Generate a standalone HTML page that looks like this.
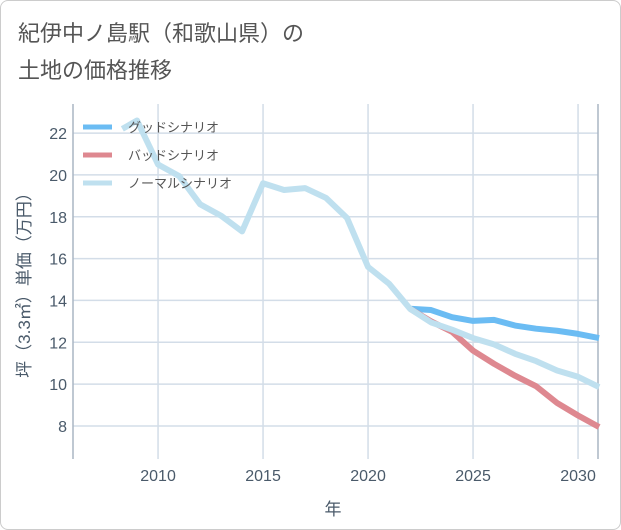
<!DOCTYPE html>
<html><head><meta charset="utf-8"><style>
body{margin:0;background:#fff;}
#wrap{position:relative;width:619px;height:528px;border:1px solid #ccc;border-radius:8px;background:#fff;overflow:hidden;font-family:"Liberation Sans","Noto Sans CJK JP",sans-serif;}
#title{position:absolute;left:17px;top:14px;font-size:22px;line-height:37px;color:#555;}
svg{position:absolute;left:0;top:0;}
</style></head><body>
<div id="wrap">
<div id="title">紀伊中ノ島駅（和歌山県）の<br>土地の価格推移</div>
<svg id="chart" width="621" height="530"></svg>
</div>
<script>
const normalYears=[2008.3,2009,2010,2011,2012,2013,2014,2015,2016,2017,2018,2019,2020,2021,2022,2023,2024,2025,2026,2027,2028,2029,2030,2031];
const normalValues=[22.2,22.6,20.5,19.95,18.6,18.05,17.3,19.6,19.28,19.37,18.9,17.94,15.6,14.8,13.6,12.95,12.6,12.2,11.9,11.45,11.1,10.65,10.35,9.86];
const futureYears=[2022,2023,2024,2025,2026,2027,2028,2029,2030,2031];
const goodValues=[13.6,13.54,13.2,13.02,13.07,12.8,12.65,12.55,12.4,12.2];
const badValues=[13.6,13.0,12.5,11.6,10.97,10.4,9.9,9.1,8.5,7.95];
const xTicks=[2010,2015,2020,2025,2030];
const yTicks=[8,10,12,14,16,18,20,22];
const L=72,R=597,T=103,B=458,x0=2005.95,x1=2030.95,y0=6.42,y1=23.39;
const X=v=>L+(v-x0)/(x1-x0)*(R-L);
const Y=v=>B-(v-y0)/(y1-y0)*(B-T);
const svg=document.getElementById('chart');
const NS='http://www.w3.org/2000/svg';
function mk(tag,attrs){const e=document.createElementNS(NS,tag);for(const k in attrs)e.setAttribute(k,attrs[k]);svg.appendChild(e);return e;}
yTicks.forEach(v=>{
 const g=mk('line',{x1:L,x2:R,y1:Y(v),y2:Y(v),stroke:'#d3dde8','stroke-width':1.5});
 
 
 const t=mk('text',{x:L-6,y:Y(v)+6,'text-anchor':'end','font-size':16,fill:'#4a5a6a'});
 t.textContent=v;
 
 
});
xTicks.forEach(v=>{
 const g=mk('line',{x1:X(v),x2:X(v),y1:T,y2:B,stroke:'#d3dde8','stroke-width':1.5});
 
 
 const t=mk('text',{x:X(v),y:B+22,'text-anchor':'middle','font-size':16,fill:'#4a5a6a'});
 t.textContent=v;
 
 
});
[L,R].forEach(x=>{const a=mk('line',{x1:x,x2:x,y1:T,y2:B,stroke:'#aab6c4','stroke-width':1.5});
 
 });
function line(xs,ys,color,name){
 const p=mk('polyline',{points:xs.map((x,i)=>X(x)+','+Y(ys[i])).join(' '),fill:'none',stroke:color,'stroke-width':6,'stroke-linejoin':'round'});
 
 
}
line(futureYears,goodValues,'#6bbcf3','good-scenario-line');
line(futureYears,badValues,'#de8890','bad-scenario-line');
line(normalYears,normalValues,'#bfe0ef','normal-scenario-line');
const leg=[['グッドシナリオ','#6bbcf3',126],['バッドシナリオ','#de8890',154],['ノーマルシナリオ','#bfe0ef',182]];
leg.forEach(([n,c,y])=>{
 const s=mk('line',{x1:82,x2:111,y1:y,y2:y,stroke:c,'stroke-width':5});
 
 
 const t=mk('text',{x:127,y:y+5,'font-size':13,fill:'#555'});
 t.textContent=n;
 
 
});
const yt=mk('text',{x:0,y:0,'font-size':17,fill:'#4a5a6a','text-anchor':'middle',transform:'translate(29,280) rotate(-90)'});
yt.textContent='坪（3.3㎡）単価（万円）';


const xt=mk('text',{x:332,y:514,'font-size':17,fill:'#4a5a6a','text-anchor':'middle'});
xt.textContent='年';


</script>
</body></html>
